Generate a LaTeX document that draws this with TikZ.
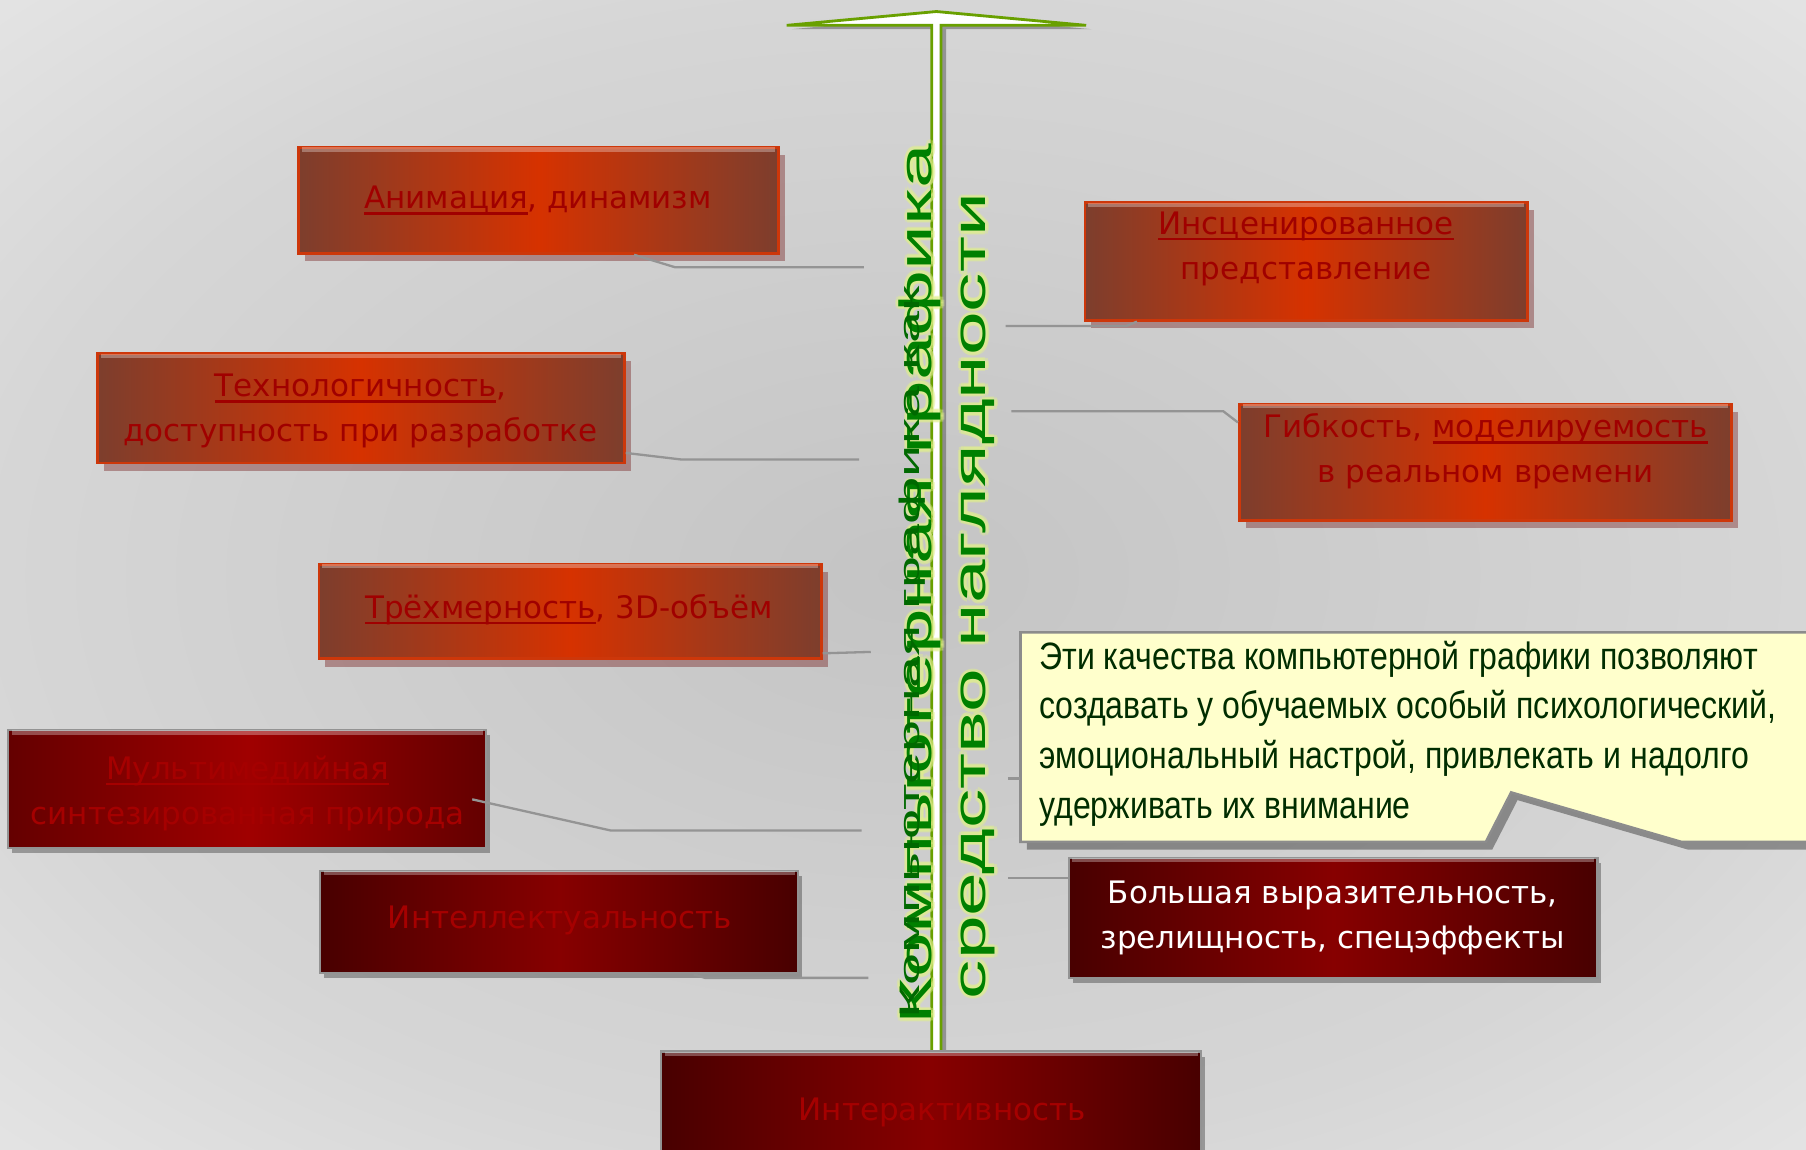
\documentclass[tikz,border=0pt]{standalone}
\usepackage{fontspec}
\usepackage{graphicx}
\setmainfont{DejaVu Sans}
\newfontfamily\arialf{Liberation Sans}
\newfontfamily\narrowf[FakeStretch=0.84]{Liberation Sans}
\usetikzlibrary{shadows,fit,calc}
\definecolor{bgin}{RGB}{196,196,196}
\definecolor{bgmid}{RGB}{214,214,214}
\definecolor{bgout}{RGB}{240,240,240}
\definecolor{bgfar}{RGB}{252,252,252}
\pgfdeclareradialshading{bgshade}{\pgfpoint{0bp}{0bp}}{color(0bp)=(bgin); color(25bp)=(bgmid); color(45bp)=(bgout); color(71bp)=(bgfar)}
\definecolor{bxedge}{RGB}{125,62,45}
\definecolor{bxmid}{RGB}{214,50,0}
\definecolor{bxline}{RGB}{205,55,10}
\definecolor{txred}{RGB}{160,0,0}
\definecolor{dkedge}{RGB}{72,0,0}
\definecolor{dkmid}{RGB}{135,0,0}
\definecolor{mmedge}{RGB}{100,0,0}
\definecolor{mmmid}{RGB}{160,0,0}
\definecolor{dktext}{RGB}{165,0,0}
\definecolor{grn}{RGB}{0,128,0}
\definecolor{grndk}{RGB}{0,105,0}
\definecolor{arrowgrn}{RGB}{105,160,0}
\definecolor{callfill}{RGB}{255,255,204}
\definecolor{calltext}{RGB}{0,45,0}
\definecolor{glowc}{RGB}{225,240,140}
\definecolor{conncol}{RGB}{148,148,148}
\newcommand\ulx[1]{\setbox0\hbox{#1}\rlap{\rule[-2.3pt]{\wd0}{0.9pt}}\box0}
\newcommand\vtextA{\resizebox{344pt}{12.8pt}{\arialf Компьютерная графика}}
\newcommand\vtextB{\resizebox{286pt}{8pt}{\arialf Компьютерная графика как}}
\newcommand\vtextC{\resizebox{315pt}{9.6pt}{\arialf средство наглядности}}
\tikzset{
  obox/.style={draw=bxline, line width=1.1pt, left color=bxedge, right color=bxedge, middle color=bxmid, inner sep=0pt,
    drop shadow={shadow xshift=2.5pt, shadow yshift=-3pt, opacity=0.35, fill=black!60!red}},
  dbox/.style={draw=gray!85, line width=0.9pt, left color=dkedge, right color=dkedge, middle color=dkmid, inner sep=0pt,
    drop shadow={shadow xshift=1.5pt, shadow yshift=-2pt, opacity=0.3, fill=black}},
  mbox/.style={dbox, left color=mmedge, right color=mmedge, middle color=mmmid},
  btext/.style={font=\fontsize{12.1}{17.6}\selectfont, text=txred, align=center, inner sep=0pt},
  dtext/.style={btext, text=dktext},
  wtext/.style={btext, text=white},
  conn/.style={draw=conncol, line width=0.9pt},
  capline/.style={draw=white, opacity=0.3, line width=1.6pt},
  vtxt/.style={rotate=90, anchor=base west, inner sep=0pt, text=grn},
  gtxt/.style={vtxt, text=glowc, opacity=0.42}
}
\begin{document}
\begin{tikzpicture}[x=0.45pt,y=-0.45pt]
\useasboundingbox (0,0) rectangle (1568,998);
\shade[shading=bgshade] (0,0) rectangle (1568,998);

% arrow
\path[fill=white, draw=arrowgrn, line width=1.1pt, line join=miter,
  drop shadow={shadow xshift=2pt, shadow yshift=-1.5pt, opacity=0.3, fill=black}]
  (683,22) -- (813,10) -- (943,22) -- (817,22) -- (817,915) -- (809,915) -- (809,22) -- cycle;

% boxes
\node[obox, fit={(259,128) (676,220)}] (anim) {};
\node[obox, fit={(85,307) (542,402)}] (tech) {};
\node[obox, fit={(277,490) (713,572)}] (trex) {};
\node[mbox, fit={(7,634) (422,736)}] (mult) {};
\node[dbox, fit={(278,756) (693,845)}] (intel) {};
\node[obox, fit={(942,176) (1326,278)}] (insc) {};
\node[obox, fit={(1076,351) (1503,452)}] (gibk) {};
\node[dbox, fit={(928,745) (1387,849)}] (bolsh) {};
\node[dbox, fit={(574,913) (1043,1010)}] (inter) {};
\foreach \b in {anim,tech,trex,mult,intel,insc,gibk,bolsh,inter}
  \draw[capline] ($(\b.north west)+(4,3)$) -- ($(\b.north east)+(-4,3)$);

% callout
\path[fill=callfill, draw=gray!90, line width=1pt,
  drop shadow={shadow xshift=2.5pt, shadow yshift=-3pt, opacity=0.35, fill=black}]
  (886,549) -- (1580,549) -- (1580,731) -- (1460,731) -- (1312,688) -- (1290,731) -- (886,731) -- cycle;
\coordinate (callw) at (886,676);

% texts
\node[btext] (animt) at (467,174) {\ulx{Анимация}, динамизм};
\node[btext] (techt) at (313,357) {\ulx{Технологичность},\\доступность при разработке};
\node[btext] (trext) at (494,529) {\ulx{Трёхмерность}, 3D-объём};
\node[dtext] (multt) at (215,689) {\ulx{Мультимедийная}\\синтезированная природа};
\node[dtext] (intelt) at (486,799) {Интеллектуальность};
\node[dtext] (intert) at (818,966) {Интерактивность};
\node[btext] (insct) at (1134,216) {\ulx{Инсценированное}\\представление};
\node[btext] (gibkt) at (1290,392) {Гибкость, \ulx{моделируемость}\\в реальном времени};
\node[wtext] (bolsht) at (1157,797) {Большая выразительность,\\зрелищность, спецэффекты};
\node[anchor=west, align=left, inner sep=0pt, text=calltext,
  font=\narrowf\fontsize{14.9}{19.5}\selectfont] (callt) at (902,637)
  {Эти качества компьютерной графики позволяют\\создавать у обучаемых особый психологический,\\эмоциональный настрой, привлекать и надолго\\удерживать их внимание};

% connectors
\coordinate (k1a) at (586,232); \coordinate (k1) at (750,232);
\draw[conn] ($(anim.south west)!0.698!(anim.south east)$) -- (k1a) -- (k1);
\coordinate (k2a) at (592,399); \coordinate (k2) at (746,399);
\draw[conn] ($(tech.south east)+(0,-10)$) -- (k2a) -- (k2);
\coordinate (k3) at (756,566);
\draw[conn] ($(trex.south east)+(0,-6)$) -- (k3);
\coordinate (k4s) at (410,694); \coordinate (k4a) at (530,721); \coordinate (k4) at (748,721);
\draw[conn] (k4s) -- (k4a) -- (k4);
\coordinate (k5a) at (612,849); \coordinate (k5) at (754,849);
\draw[conn] ($(intel.south west)!0.78!(intel.south east)$) -- (k5a) -- (k5);
\coordinate (k7) at (873,283); \coordinate (k7a) at (978,283);
\draw[conn] (k7) -- (k7a) -- ($(insc.south west)!0.12!(insc.south east)$);
\coordinate (k8) at (878,357); \coordinate (k8a) at (1062,357);
\draw[conn] (k8) -- (k8a) -- ($(gibk.north west)+(0,17)$);
\coordinate (k9) at (875,676);
\draw[conn] (k9) -- (callw);
\coordinate (k10) at (875,762);
\draw[conn] (k10) -- (bolsh.west |- k10);

% vertical texts with glow
\foreach \dx/\dy [count=\i] in {1.4/0,-1.4/0,0/1.4,0/-1.4,1/1,-1/1,1/-1,-1/-1}{
  \node[gtxt, xshift=\dx pt, yshift=\dy pt] (gA\i) at (809,890) {\vtextA};
  \node[gtxt, xshift=\dx pt, yshift=\dy pt] (gC\i) at (856,868) {\vtextC};
}
\node[vtxt] (vA) at (809,890) {\vtextA};
\node[vtxt, text=grndk] (vB) at (798,885) {\vtextB};
\node[vtxt] (vC) at (856,868) {\vtextC};
\end{tikzpicture}
\end{document}
